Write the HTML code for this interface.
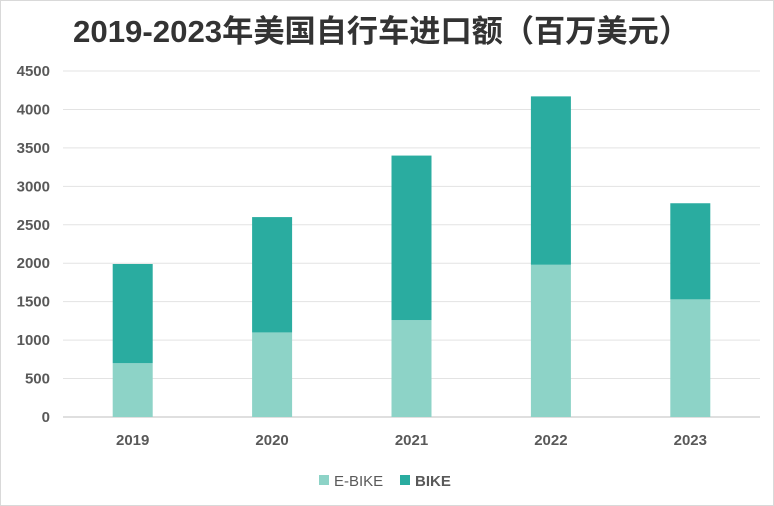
<!DOCTYPE html>
<html><head><meta charset="utf-8"><style>
body{margin:0;background:#fff;}
svg{display:block;font-family:"Liberation Sans","Noto Sans CJK SC",sans-serif;}
</style></head><body>
<svg id="chart" width="774" height="506">
<rect x="0.5" y="0.5" width="773" height="505" fill="#fff" stroke="#d9d9d9"/>
<text x="73" y="42" textLength="617" lengthAdjust="spacingAndGlyphs" font-size="31" font-weight="bold" fill="#333">2019-2023年美国自行车进口额（百万美元）</text>
<g id="grid"></g><g id="bars"></g><g id="xl"></g>
<g>
<rect x="319" y="475" width="10" height="10" fill="#8dd3c7"/>
<text x="334" y="486" font-size="15" fill="#595959">E-BIKE</text>
<rect x="400" y="475" width="10" height="10" fill="#2aaca0"/>
<text x="415" y="486" font-size="15" font-weight="bold" fill="#595959">BIKE</text>
</g>
</svg>
<script>
const categories=["2019","2020","2021","2022","2023"];
const ebike=[700,1100,1260,1980,1530];
const bike=[1290,1500,2140,2190,1250];
const ticks=[0,500,1000,1500,2000,2500,3000,3500,4000,4500];
const NS="http://www.w3.org/2000/svg";
const x0=63,x1=760,y0=417,yTop=71,max=4500;
const y=v=>y0-(v/max)*(y0-yTop);
const bw=(x1-x0)/categories.length;
const xc=i=>x0+bw*(i+0.5);
function mk(t,a,p){const e=document.createElementNS(NS,t);for(const k in a)e.setAttribute(k,a[k]);p.appendChild(e);return e;}
const g=document.getElementById('grid');
ticks.forEach(t=>{
 const l=mk('line',{x1:x0,x2:x1,y1:y(t),y2:y(t),stroke:t===0?'#bfbfbf':'#e3e3e3'},g);
 
 
 const tx=mk('text',{x:50,y:y(t)+5,'text-anchor':'end','font-size':15,'font-weight':'bold',fill:'#595959'},g);
 tx.textContent=t;
 
 
});
const b=document.getElementById('bars'),xl=document.getElementById('xl');
categories.forEach((c,i)=>{
 const w=40,x=xc(i)-w/2;
 const r1=mk('rect',{x:x,y:y(ebike[i]),width:w,height:y0-y(ebike[i]),fill:'#8dd3c7'},b);
 
 
 const r2=mk('rect',{x:x,y:y(ebike[i]+bike[i]),width:w,height:y(ebike[i])-y(ebike[i]+bike[i]),fill:'#2aaca0'},b);
 
 
 const t=mk('text',{x:xc(i),y:445,'text-anchor':'middle','font-size':15,'font-weight':'bold',fill:'#595959'},xl);
 t.textContent=c;
 
 
});
</script>
</body></html>
